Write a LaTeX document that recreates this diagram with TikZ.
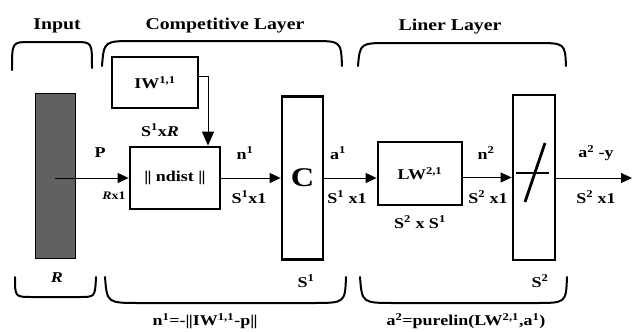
\documentclass[tikz,border=0pt]{standalone}
\usepackage{fontspec}
\setmainfont{Liberation Serif}
\usetikzlibrary{arrows.meta,calc}
\newcommand{\wx}[1]{\scalebox{1.2}[1]{#1}}
\newcommand{\dbar}{|\kern-0.6pt|}
\begin{document}
\begin{tikzpicture}[x=1pt,y=-1pt,
  lbl/.style={font=\fontsize{15}{17}\selectfont\bfseries,inner sep=0pt},
  ttl/.style={font=\fontsize{16.5}{18}\selectfont\bfseries,inner sep=0pt},
  thinbox/.style={draw,line width=1.8pt,inner sep=0pt},
  thickbox/.style={draw,line width=2.8pt,inner sep=0pt},
  brace/.style={line width=2pt,line cap=round},
  conn/.style={line width=1pt,-{Triangle[length=11pt,width=10pt]}}]
\useasboundingbox (0,0) rectangle (635,332);
% titles
\node[ttl] (tin) at (57,26) {\wx{Input}};
\node[ttl] (tcl) at (225,26) {\wx{Competitive Layer}};
\node[ttl] (tll) at (450,27) {\wx{Liner Layer}};
% top braces
\draw[brace] (12,70) .. controls (12,42) and (12,42) .. (30,42) -- (75,42) .. controls (92,42) and (92,42) .. (92,68);
\draw[brace] (102,66) .. controls (104,41) and (104,41) .. (135,41) -- (312,41) .. controls (341,41) and (341,41) .. (342,66);
\draw[brace] (358,66) .. controls (360,43) and (360,43) .. (390,43) -- (535,43) .. controls (565,43) and (565,43) .. (566,66);
% bottom braces
\draw[brace] (15,277) .. controls (15,297) and (15,297) .. (32,297) -- (80,297) .. controls (95,297) and (95,297) .. (96,277);
\draw[brace] (105,277) .. controls (107,303) and (107,303) .. (140,303) -- (312,303) .. controls (345,303) and (345,303) .. (346,277);
\draw[brace] (360,277) .. controls (362,303) and (362,303) .. (395,303) -- (535,303) .. controls (566,303) and (566,303) .. (567,277);
% blocks
\node[draw,line width=0.8pt,fill=black!62,minimum width=40pt,minimum height=165pt,inner sep=0pt] (inp) at (55,175.5) {};
\node[thinbox,minimum width=86pt,minimum height=51pt] (iw) at (155,82.5) {};
\node[lbl] at (iw.center) {\wx{IW\textsuperscript{1,1}}};
\node[thickbox,minimum width=90pt,minimum height=62pt] (nd) at (175,178) {};
\node[lbl] at (nd.center) {\wx{\dbar\ ndist \dbar}};
\node[thickbox,minimum width=41pt,minimum height=163pt] (cb) at (302.5,178) {};
\node[font=\fontsize{27}{29}\selectfont\bfseries,inner sep=0pt] at (cb.center) {\wx{C}};
\node[thickbox,minimum width=84pt,minimum height=63pt] (lw) at (420,173.5) {};
\node[lbl] at (lw.center) {\wx{LW\textsuperscript{2,1}}};
\node[thickbox,minimum width=42pt,minimum height=165pt] (sb) at (534,177.5) {};
\coordinate (sl1) at (525,202);
\coordinate (sl2) at (545,143);
\coordinate (hb1) at (516,173);
\coordinate (hb2) at (549,173);
\draw[line width=2.8pt] (sl1) -- (sl2);
\draw[line width=2.8pt] (hb1) -- (hb2);
\coordinate (out) at (632,178);
% connectors
\coordinate (iwc) at (208,76);
\draw[line width=1pt,-{Triangle[length=14pt,width=12pt]}] (iw.east |- iwc) -- (iwc) -- (iwc |- nd.north);
\draw[conn] (inp.center |- nd.west) -- (nd.west);
\draw[conn] (nd.east) -- (cb.west);
\draw[conn] (cb.east) -- (lw.west |- cb.east);
\draw[conn] (lw.east |- sb.west) -- (sb.west);
\draw[conn] (sb.east |- out) -- (out);
% labels
\node[lbl] at (160,130) {\wx{S\textsuperscript{1}x\textit{R}}};
\node[lbl] at (100,153) {\wx{P}};
\node[font=\fontsize{11.5}{13}\selectfont\bfseries,inner sep=0pt] at (114,196) {\wx{\textit{R}x1}};
\node[lbl] at (245,153) {\wx{n\textsuperscript{1}}};
\node[lbl] at (249,197) {\wx{S\textsuperscript{1}x1}};
\node[lbl] at (338,153) {\wx{a\textsuperscript{1}}};
\node[lbl] at (347,197) {\wx{S\textsuperscript{1} x1}};
\node[lbl] at (486,153) {\wx{n\textsuperscript{2}}};
\node[lbl] at (488,197) {\wx{S\textsuperscript{2} x1}};
\node[lbl] at (420,222) {\wx{S\textsuperscript{2} x S\textsuperscript{1}}};
\node[lbl] at (596,153) {\wx{a\textsuperscript{2} -y}};
\node[lbl] at (596,197) {\wx{S\textsuperscript{2} x1}};
\node[lbl] at (306,281) {\wx{S\textsuperscript{1}}};
\node[lbl] at (540,281) {\wx{S\textsuperscript{2}}};
\node[lbl] at (57,278) {\wx{\textit{R}}};
\node[lbl] at (205,321) {\wx{n\textsuperscript{1}=-\dbar IW\textsuperscript{1,1}-p\dbar}};
\node[lbl] at (466,321) {\wx{a\textsuperscript{2}=purelin(LW\textsuperscript{2,1},a\textsuperscript{1})}};
\end{tikzpicture}
\end{document}
